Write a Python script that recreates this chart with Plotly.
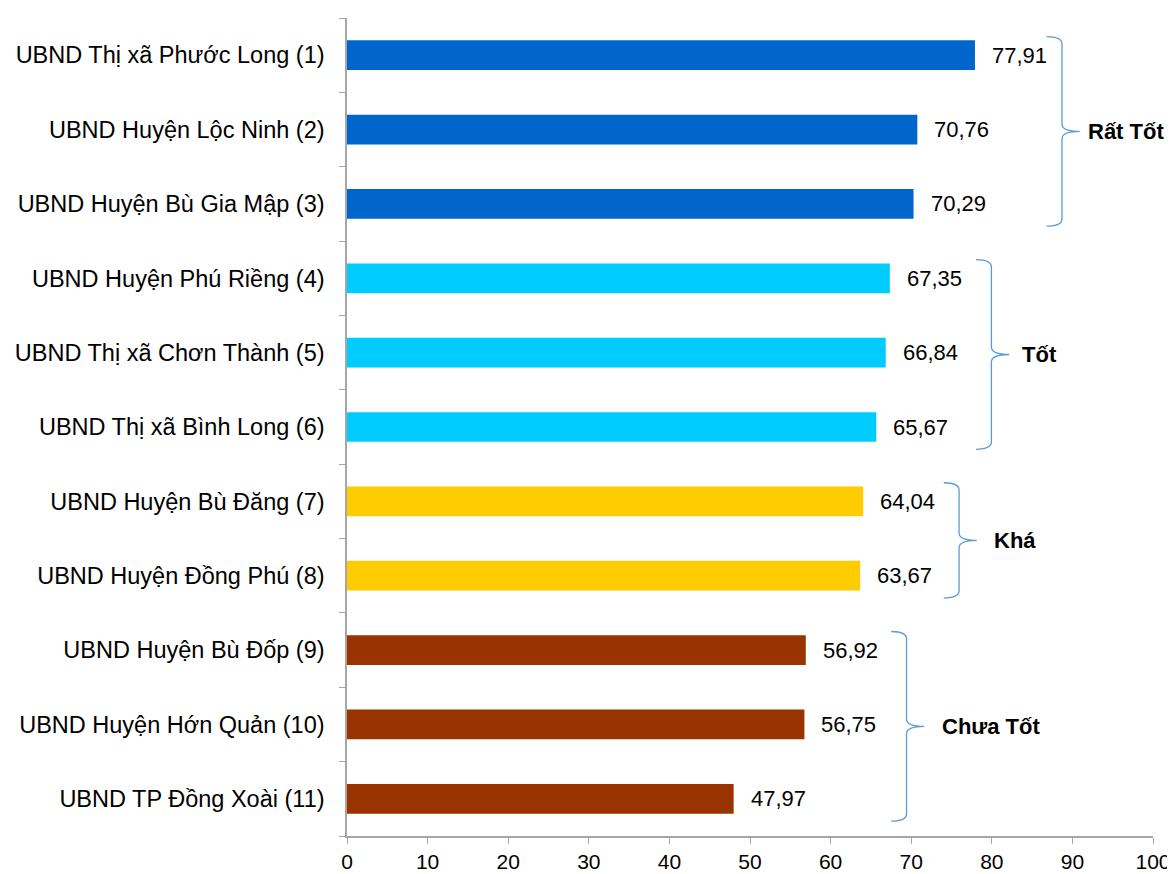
import plotly.graph_objects as go

categories = [
    "UBND Thị xã Phước Long (1)",
    "UBND Huyện Lộc Ninh (2)",
    "UBND Huyện Bù Gia Mập (3)",
    "UBND Huyện Phú Riềng (4)",
    "UBND Thị xã Chơn Thành (5)",
    "UBND Thị xã Bình Long (6)",
    "UBND Huyện Bù Đăng (7)",
    "UBND Huyện Đồng Phú (8)",
    "UBND Huyện Bù Đốp (9)",
    "UBND Huyện Hớn Quản (10)",
    "UBND TP Đồng Xoài (11)",
]
values = [77.91, 70.76, 70.29, 67.35, 66.84, 65.67, 64.04, 63.67, 56.92, 56.75, 47.97]
group_names = ["Rất Tốt", "Tốt", "Khá", "Chưa Tốt"]
group_members = [[0, 1, 2], [3, 4, 5], [6, 7], [8, 9, 10]]
group_colors = ["#0066CC", "#00CCFF", "#FFCC00", "#993300"]
x_ticks = [0, 10, 20, 30, 40, 50, 60, 70, 80, 90, 100]

# style: brace placement (x offset beyond group max) and label offset
brace_offsets = [10.8, 12.6, 11.9, 12.5]
label_gaps = [3.0, 3.5, 4.1, 4.2]

FONT = "Liberation Sans, Arial, sans-serif"
BRACE = "#5B9BD5"

colors = [None] * len(values)
for g, members in enumerate(group_members):
    for i in members:
        colors[i] = group_colors[g]

ypos = list(range(len(categories)))

fig = go.Figure()
fig.add_trace(go.Bar(
    x=values, y=ypos, orientation="h",
    marker=dict(color=colors, line=dict(width=0)),
    width=0.4, hoverinfo="x+y",
))

annotations = []
for i, v in enumerate(values):
    annotations.append(dict(
        x=v, y=i, xref="x", yref="y", text=f"{v:.2f}".replace(".", ","),
        showarrow=False, xanchor="left", yanchor="middle", xshift=15,
        font=dict(family=FONT, size=22, color="#000000"),
    ))

shapes = []
for g, members in enumerate(group_members):
    vmax = max(values[i] for i in members)
    vx = vmax + brace_offsets[g]
    hook = vx - 1.9
    tip = vx + 2.2
    top = members[0] - 0.25
    bot = members[-1] + 0.3
    mid = (top + bot) / 2
    r = 0.1
    path = (f"M {hook},{top} Q {vx},{top} {vx},{top + r} "
            f"L {vx},{mid - r} Q {vx},{mid} {tip},{mid} "
            f"Q {vx},{mid} {vx},{mid + r} "
            f"L {vx},{bot - r} Q {vx},{bot} {hook},{bot}")
    shapes.append(dict(type="path", path=path, xref="x", yref="y",
                       line=dict(color=BRACE, width=1.3)))
    annotations.append(dict(
        x=tip + label_gaps[g] - 2.2, y=mid, xref="x", yref="y",
        text=f"<b>{group_names[g]}</b>", showarrow=False,
        xanchor="left", yanchor="middle",
        font=dict(family=FONT, size=22, color="#000000"),
    ))

fig.update_layout(
    width=1167, height=866,
    margin=dict(l=339, r=22, t=10, b=38, autoexpand=False),
    paper_bgcolor="white", plot_bgcolor="white",
    showlegend=False, bargap=0.6,
    font=dict(family=FONT, size=22, color="#000000"),
    annotations=annotations, shapes=shapes,
    xaxis=dict(
        range=[0, 100], tickvals=x_ticks, ticks="outside", ticklen=6,
        tickcolor="#A6A6A6", showline=True, linecolor="#A6A6A6", linewidth=1.5,
        showgrid=False, zeroline=False, tickfont=dict(size=21), ticklabelstandoff=0,
        ticklabeloverflow="allow", automargin=False,
    ),
    yaxis=dict(
        range=[len(categories) - 0.5, -0.5], tickvals=ypos, ticktext=categories,
        ticks="", showline=True, linecolor="#A6A6A6", linewidth=1.5,
        showgrid=False, zeroline=False, tickfont=dict(size=23.5), ticklabelstandoff=16,
        automargin=False,
        minor=dict(tickvals=[i - 0.5 for i in range(len(categories) + 1)],
                   ticks="outside", ticklen=6, tickcolor="#A6A6A6", showgrid=False),
    ),
)

fig.write_html("out.html")
